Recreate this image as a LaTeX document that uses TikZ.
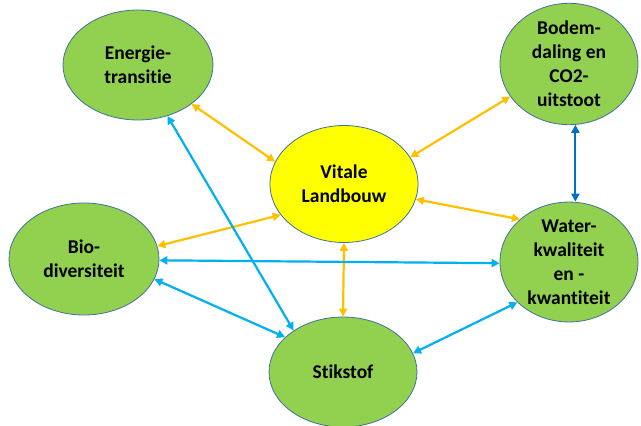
\documentclass[tikz,border=0pt]{standalone}
\usepackage{fontspec}
\setmainfont{Carlito}[Ligatures={NoCommon}]
\usetikzlibrary{shapes.geometric,arrows.meta}
\definecolor{nodegreen}{HTML}{92D050}
\definecolor{nodeyellow}{HTML}{FFFF00}
\definecolor{edgeorange}{HTML}{FFC000}
\definecolor{edgeblue}{HTML}{00B0F0}
\definecolor{edgedark}{HTML}{0070C0}
\definecolor{rimblue}{HTML}{41719C}
\tikzset{
  topic/.style={ellipse, draw=rimblue, line width=0.8pt, fill=nodegreen, inner sep=0pt,
    align=center, font=\fontsize{19.5}{24}\selectfont\bfseries, text=black},
  link/.style={line width=2.2pt, {Triangle[length=8pt,width=8pt]}-{Triangle[length=8pt,width=8pt]}},
  olink/.style={link, draw=edgeorange},
  blink/.style={link, draw=edgeblue},
  dlink/.style={link, draw=edgedark},
}
\begin{document}
\begin{tikzpicture}[x=1pt,y=-1pt]
\useasboundingbox (0,0) rectangle (641,426);
\fill[white] (0,0) rectangle (641,426);
\node[topic, minimum width=150pt, minimum height=110pt] (ene) at (138,65) {Energie-\\transitie};
\node[topic, minimum width=138pt, minimum height=108pt] (bod) at (569,64) {Bodem-\\daling en\\CO2-\\uitstoot};
\node[topic, fill=nodeyellow, minimum width=148pt, minimum height=117pt] (vit) at (344,184) {Vitale\\Landbouw};
\node[topic, minimum width=150pt, minimum height=112pt] (bio) at (84,259) {Bio-\\diversiteit};
\node[topic, minimum width=138pt, minimum height=115pt] (wat) at (569,262) {Water-\\kwaliteit\\en -\\kwantiteit};
\node[topic, minimum width=148pt, minimum height=110pt] (sti) at (343,372) {Stikstof};
% orange links
\draw[olink] (ene.-36) -- (vit.162);
\draw[olink] (vit.22) -- (bod.209);
\draw[olink] (vit.-12) -- (wat.139);
\draw[olink] (vit.206) -- (bio.10);
\draw[olink] (vit.-90) -- (sti.90);
% blue links
\draw[dlink] (bod.-84) -- (bod.-84 |- wat.north);
\draw[blink] (bio.-1) -- (wat.181);
\draw[blink] (bio.-16) -- (sti.149);
\draw[blink] (ene.-60) -- (sti.140);
\draw[blink] (sti.15) -- (wat.218);
\end{tikzpicture}
\end{document}
